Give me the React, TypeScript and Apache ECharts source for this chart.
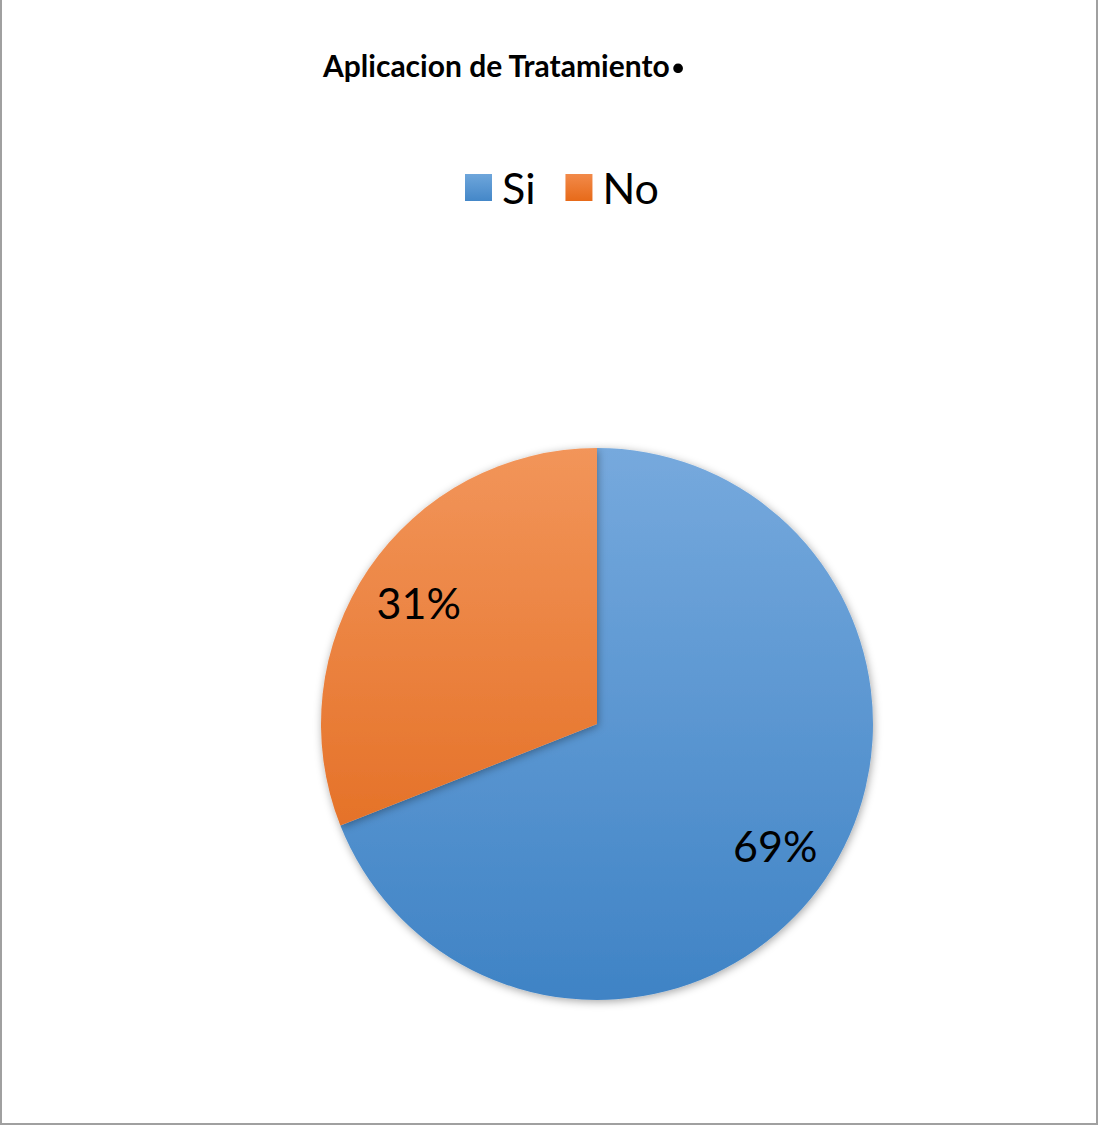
import React, { useEffect, useRef } from "react";
import * as echarts from "echarts";

const titleText = "Aplicacion de Tratamiento";
const categories = ["Si", "No"];
const values = [69, 31];
const labels = ["69%", "31%"];

const FONT = "Lato, 'Open Sans', sans-serif";

export default function App() {
  const ref = useRef<HTMLDivElement>(null);
  useEffect(() => {
    if (!ref.current) return;
    const chart = echarts.init(ref.current, null, { renderer: "svg" });
    const cx = 597;
    const cy = 724;
    const r = 276;
    const top = cy - r;
    const bottom = cy + r;
    const blueStops = [
      { offset: 0, color: "#76A9DD" },
      { offset: 1, color: "#3F83C5" },
    ];
    const orangeStops = [
      { offset: 0, color: "#F2955A" },
      { offset: 1, color: "#DF6212" },
    ];
    const gBlue = new echarts.graphic.LinearGradient(0, top, 0, bottom, blueStops, true);
    const gOrange = new echarts.graphic.LinearGradient(0, top, 0, bottom, orangeStops, true);
    const colors = [gBlue, gOrange];
    const legendColors = [
      new echarts.graphic.LinearGradient(0, 0, 0, 1, [
        { offset: 0, color: "#6EA6DB" },
        { offset: 1, color: "#4487C8" },
      ]),
      new echarts.graphic.LinearGradient(0, 0, 0, 1, [
        { offset: 0, color: "#F28A4A" },
        { offset: 1, color: "#E76A19" },
      ]),
    ];
    chart.setOption({
      animation: false,
      title: {
        text: "{t|" + titleText + "}{d|.}",
        left: 318,
        top: 39,
        textStyle: {
          fontFamily: FONT,
          fontWeight: "bold",
          fontSize: 30,
          color: "#000",
          rich: {
            t: { fontFamily: FONT, fontWeight: "bold", fontSize: 30, color: "#000", lineHeight: 36, verticalAlign: "bottom" },
            d: { fontFamily: FONT, fontWeight: "bold", fontSize: 64, color: "#000", lineHeight: 36, verticalAlign: "bottom", padding: [0, 0, 0, 0] },
          },
        },
      },
      legend: {
        top: 161,
        left: 460,
        itemWidth: 27,
        itemHeight: 27,
        itemGap: 30,
        icon: "rect",
        data: categories.map((c, i) => ({ name: c, itemStyle: { color: legendColors[i] } })),
        textStyle: { fontFamily: FONT, fontSize: 43, color: "#000", padding: [0, 0, 0, 5] },
      },
      graphic: [
        {
          type: "rect",
          shape: { x: 1, y: -2, width: 1096, height: 1126 },
          style: { fill: "none", stroke: "#a0a0a0", lineWidth: 2 },
          silent: true,
        },
      ],
      series: [
        {
          type: "pie",
          center: [cx, cy],
          radius: [0, r],
          startAngle: 90,
          clockwise: true,
          label: { show: false },
          labelLine: { show: false },
          silent: true,
          itemStyle: {
            borderWidth: 0,
            shadowBlur: 8,
            shadowColor: "rgba(0,0,0,0.35)",
            shadowOffsetX: 1,
            shadowOffsetY: 2,
          },
          data: categories.map((c, i) => ({
            name: c,
            value: values[i],
            itemStyle: { color: colors[i] },
          })),
        },
        {
          type: "pie",
          center: [cx, cy],
          radius: [r * 0.54, r],
          startAngle: 90,
          clockwise: true,
          silent: true,
          legendHoverLink: false,
          itemStyle: { color: "rgba(0,0,0,0)", borderWidth: 0 },
          label: {
            show: true,
            position: "inside",
            formatter: (p: any) => labels[p.dataIndex],
            fontFamily: FONT,
            fontSize: 43,
            color: "#000",
          },
          labelLine: { show: false },
          data: categories.map((c, i) => ({ name: c + " ", value: values[i] })),
        },
      ],
    });
    return () => chart.dispose();
  }, []);
  return (
    <div style={{ position: "absolute", left: 0, top: 0, width: 1098, height: 1127, background: "#fff" }}>
      <div ref={ref} style={{ width: 1098, height: 1127 }} />
    </div>
  );
}
